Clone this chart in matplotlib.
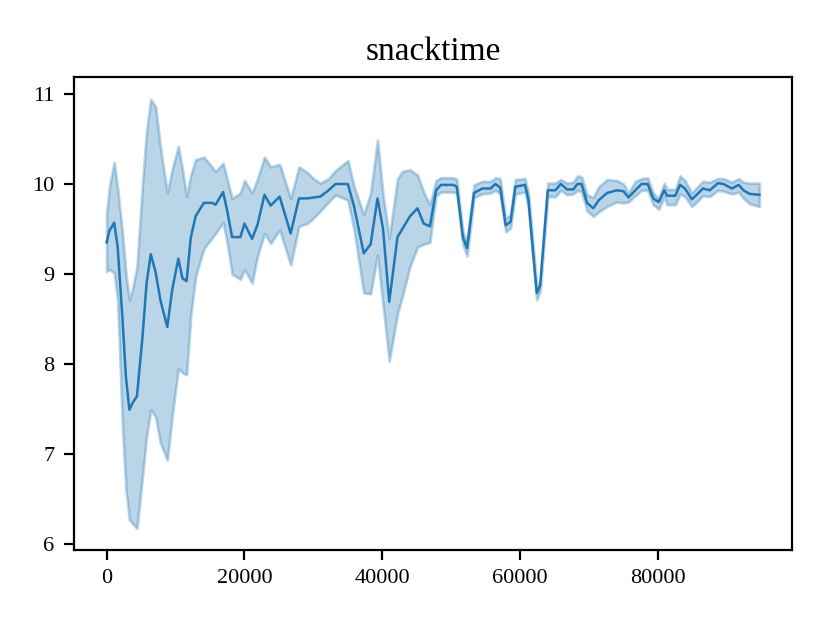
import matplotlib
matplotlib.use("Agg")
import matplotlib.pyplot as plt

plt.rcParams['font.family'] = ['Liberation Serif', 'DejaVu Serif']

steps = [0, 400, 1100, 1600, 2300, 2800, 3300, 3800, 4400, 5200, 5800, 6400, 7100, 7800,
         8800, 9500, 10400, 11000, 11600, 12200, 12900, 14100, 15300, 15800, 16900, 17500,
         18200, 19400, 20000, 21100, 21900, 22900, 23800, 25100, 26700, 27900, 29100, 30000,
         31000, 32200, 33200, 35000, 35900, 37300, 38300, 39300, 40100, 41000, 42200, 42900,
         44000, 45100, 46000, 46900, 47800, 48500, 50300, 50800, 51700, 52300, 53300, 54500,
         55700, 56400, 57100, 57900, 58600, 59300, 60700, 61200, 62400, 62900, 64000, 65100,
         65900, 66800, 67700, 68300, 68900, 69700, 70600, 71400, 72600, 74000, 75000, 75700,
         76700, 77600, 78500, 79300, 80100, 80900, 81300, 82500, 83200, 83900, 84900, 85600,
         86500, 87500, 88700, 89500, 90700, 91700, 92400, 93300, 94700]

mean_vals = [9.35, 9.48, 9.57, 9.30, 8.50, 7.85, 7.49, 7.57, 7.64, 8.30, 8.90, 9.22, 9.02, 8.71,
             8.41, 8.82, 9.17, 8.95, 8.92, 9.40, 9.64, 9.79, 9.79, 9.77, 9.91, 9.70,
             9.41, 9.41, 9.56, 9.39, 9.55, 9.88, 9.76, 9.86, 9.45, 9.84, 9.84, 9.85,
             9.86, 9.93, 10.00, 10.00, 9.75, 9.23, 9.33, 9.84, 9.50, 8.69, 9.41, 9.50,
             9.64, 9.73, 9.56, 9.53, 9.93, 9.99, 9.99, 9.97, 9.40, 9.29, 9.90, 9.95,
             9.95, 10.00, 9.96, 9.54, 9.58, 9.97, 9.99, 9.82, 8.79, 8.87, 9.93, 9.93,
             10.00, 9.94, 9.94, 10.00, 10.00, 9.79, 9.73, 9.82, 9.90, 9.93, 9.92, 9.85,
             9.93, 10.00, 10.00, 9.84, 9.80, 9.93, 9.87, 9.87, 9.99, 9.95, 9.83, 9.88,
             9.95, 9.93, 10.01, 10.00, 9.95, 9.99, 9.93, 9.89, 9.88]

lower_vals = [9.03, 9.05, 9.01, 8.70, 7.30, 6.60, 6.27, 6.22, 6.17, 6.75, 7.20, 7.49, 7.41, 7.12,
              6.93, 7.41, 7.95, 7.90, 7.88, 8.53, 8.97, 9.28, 9.40, 9.45, 9.57, 9.34,
              9.00, 8.94, 9.05, 8.90, 9.20, 9.45, 9.34, 9.49, 9.10, 9.53, 9.56, 9.62,
              9.70, 9.80, 9.88, 9.82, 9.49, 8.79, 8.78, 9.21, 8.65, 8.03, 8.56, 8.75,
              9.08, 9.30, 9.33, 9.35, 9.87, 9.91, 9.91, 9.90, 9.32, 9.20, 9.85, 9.89,
              9.90, 9.93, 9.89, 9.47, 9.51, 9.89, 9.91, 9.74, 8.71, 8.81, 9.86, 9.86,
              9.93, 9.88, 9.89, 9.93, 9.91, 9.70, 9.64, 9.69, 9.75, 9.80, 9.79, 9.80,
              9.87, 9.93, 9.93, 9.77, 9.72, 9.86, 9.77, 9.77, 9.89, 9.86, 9.75, 9.80,
              9.87, 9.86, 9.93, 9.92, 9.89, 9.91, 9.84, 9.78, 9.75]

upper_vals = [9.67, 9.97, 10.24, 9.95, 9.45, 9.00, 8.71, 8.85, 9.08, 10.00, 10.60, 10.94, 10.86, 10.41,
              9.90, 10.16, 10.42, 10.16, 9.86, 10.10, 10.27, 10.30, 10.19, 10.14, 10.23, 10.05,
              9.84, 9.90, 10.04, 9.90, 10.06, 10.30, 10.19, 10.22, 9.84, 10.19, 10.13, 10.06,
              10.01, 10.06, 10.15, 10.26, 9.97, 9.66, 9.90, 10.49, 9.88, 9.40, 10.06, 10.14,
              10.16, 10.10, 9.91, 9.77, 10.04, 10.07, 10.07, 10.05, 9.46, 9.36, 9.99, 10.03,
              10.03, 10.07, 10.06, 9.62, 9.66, 10.05, 10.06, 9.90, 8.86, 8.92, 10.01, 10.01,
              10.05, 10.01, 10.02, 10.09, 10.08, 9.88, 9.85, 9.97, 10.05, 10.04, 10.00, 9.90,
              10.03, 10.06, 10.07, 9.90, 9.84, 10.01, 9.94, 9.94, 10.09, 10.04, 9.90, 9.96,
              10.03, 10.02, 10.06, 10.06, 10.02, 10.06, 10.02, 10.01, 10.01]

title_text = "snacktime"
xticks = [0, 20000, 40000, 60000, 80000]
yticks = [6, 7, 8, 9, 10, 11]

fig = plt.figure(figsize=(4.15, 3.115), dpi=200)
ax = fig.add_axes([74 / 830, 1 - 550 / 623, (792 - 74) / 830, (550 - 77) / 623])

color = '#1f77b4'
ax.fill_between(steps, lower_vals, upper_vals, color=color, alpha=0.3, linewidth=1.0)
ax.plot(steps, mean_vals, color=color, linewidth=0.9)

ax.set_xlim(-4735, 99435)
ax.set_ylim(5.93, 11.19)
ax.set_xticks(xticks)
ax.set_yticks(yticks)
ax.tick_params(labelsize=8)
ax.set_title(title_text, fontsize=12)

fig.savefig("out.png", dpi=200)
